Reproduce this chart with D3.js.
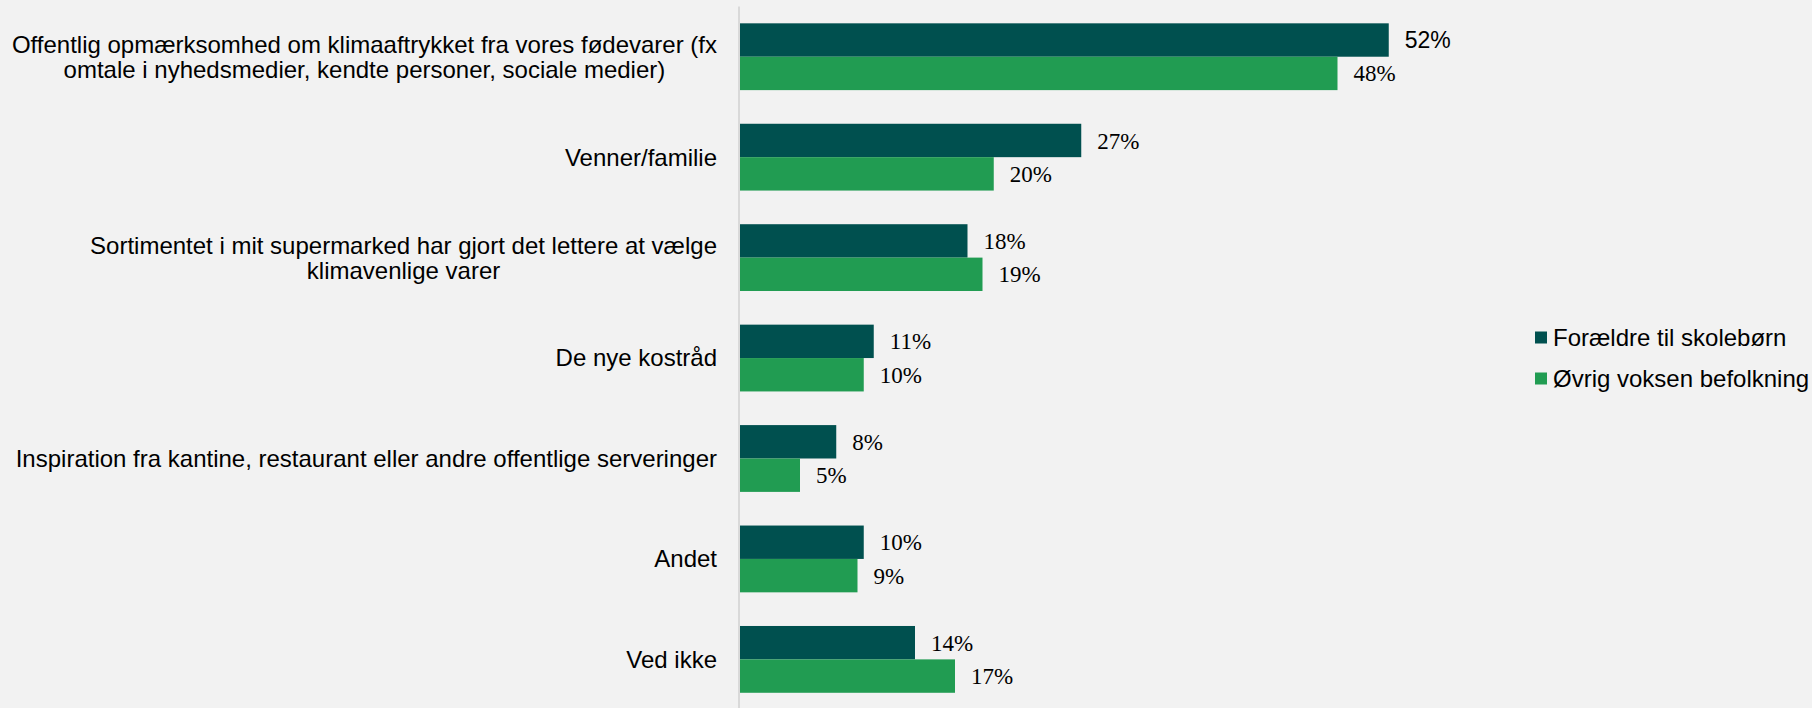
<!DOCTYPE html>
<html>
<head>
<meta charset="utf-8">
<script src="https://cdn.jsdelivr.net/npm/d3@7"></script>
<style>
  html, body { margin: 0; padding: 0; background: #f2f2f2; }
  svg { display: block; }
</style>
</head>
<body>
<div id="chart"></div>
<script>
const categories = [
  "Offentlig opmærksomhed om klimaaftrykket fra vores fødevarer (fx|omtale i nyhedsmedier, kendte personer, sociale medier)",
  "Venner/familie",
  "Sortimentet i mit supermarked har gjort det lettere at vælge|klimavenlige varer",
  "De nye kostråd",
  "Inspiration fra kantine, restaurant eller andre offentlige serveringer",
  "Andet",
  "Ved ikke"
];
const seriesNames = ["Forældre til skolebørn", "Øvrig voksen befolkning"];
// bar lengths (labels show them rounded)
const parents = [0.519, 0.273, 0.182, 0.107, 0.077, 0.099, 0.140];
const others = [0.478, 0.203, 0.194, 0.099, 0.048, 0.094, 0.172];
const colors = ["#00504f", "#219c52"];

const width = 1812, height = 708;
const axisX = 740;

var svg = d3.select("#chart")
  .append("svg")
    .attr("width", width)
    .attr("height", height);

svg.append("rect")
  .attr("width", width)
  .attr("height", height)
  .attr("fill", "#f2f2f2");

var x = d3.scaleLinear()
  .domain([0, 0.6])
  .range([axisX, axisX + 750]);

var y = d3.scaleBand()
  .domain(categories)
  .range([6.5, 709.6])
  .paddingInner(0.335)
  .paddingOuter(0.1675);

var ySub = d3.scaleBand()
  .domain([0, 1])
  .range([0, y.bandwidth()]);

// rows of data: one per category
var rows = categories.map(function(c, i) {
  return {cat: c, idx: i, values: [parents[i], others[i]]};
});

// vertical axis line
svg.append("line")
  .attr("x1", axisX - 1).attr("x2", axisX - 1)
  .attr("y1", 6.5).attr("y2", height)
  .attr("stroke", "#d9d9d9")
  .attr("stroke-width", 2);

var groups = svg.append("g")
  .selectAll("g")
  .data(rows)
  .enter()
  .append("g")
    .attr("transform", function(d) { return "translate(0," + y(d.cat) + ")"; });

groups.selectAll("rect")
  .data(function(d) { return d.values.map(function(v, s) { return {v: v, s: s, idx: d.idx}; }); })
  .enter()
  .append("rect")
    .attr("x", x(0))
    .attr("y", function(d) { return ySub(d.s); })
    .attr("width", function(d) { return x(d.v) - x(0); })
    .attr("height", ySub.bandwidth())
    .attr("fill", function(d) { return colors[d.s]; });

// value labels (the top one is set in a sans font in the original)
groups.selectAll("text.val")
  .data(function(d) { return d.values.map(function(v, s) { return {v: v, s: s, idx: d.idx}; }); })
  .enter()
  .append("text")
    .attr("class", "val")
    .attr("x", function(d) { return x(d.v) + 16; })
    .attr("y", function(d) { return ySub(d.s) + ySub.bandwidth() / 2; })
    .attr("dy", "0.35em")
    .style("font-family", function(d) {
      return (d.idx == 0 && d.s == 0) ? "'Liberation Sans', Arial, sans-serif" : "'Liberation Serif', 'Times New Roman', serif";
    })
    .style("font-size", "23px")
    .style("fill", "#000")
    .text(function(d) { return Math.round(d.v * 100) + "%"; });

// category labels, multi-line ones centred as a block that is right aligned
var labelRight = 717;
var lineH = 25;
rows.forEach(function(r) {
  var lines = r.cat.split("|");
  var g = svg.append("g").attr("class", "catlabel");
  var texts = lines.map(function(l, i) {
    return g.append("text")
      .attr("y", y(r.cat) + y.bandwidth() / 2 + (i - (lines.length - 1) / 2) * lineH)
      .attr("dy", "0.35em")
      .style("font-family", "'Liberation Sans', Arial, sans-serif")
      .style("font-size", "24px")
      .style("fill", "#000")
      .text(l);
  });
  var maxW = d3.max(texts, function(t) { return t.node().getComputedTextLength(); });
  texts.forEach(function(t) {
    t.attr("x", labelRight - maxW / 2).attr("text-anchor", "middle");
  });
});

// legend
var legend = svg.append("g")
  .selectAll("g")
  .data(seriesNames)
  .enter()
  .append("g")
    .attr("transform", function(d, i) { return "translate(1535," + (331.5 + i * 41) + ")"; });

legend.append("rect")
  .attr("width", 12)
  .attr("height", 12)
  .attr("fill", function(d, i) { return colors[i]; });

legend.append("text")
  .attr("x", 18)
  .attr("y", 6)
  .attr("dy", "0.35em")
  .style("font-family", "'Liberation Sans', Arial, sans-serif")
  .style("font-size", "24px")
  .style("fill", "#000")
  .text(function(d) { return d; });
</script>
</body>
</html>
